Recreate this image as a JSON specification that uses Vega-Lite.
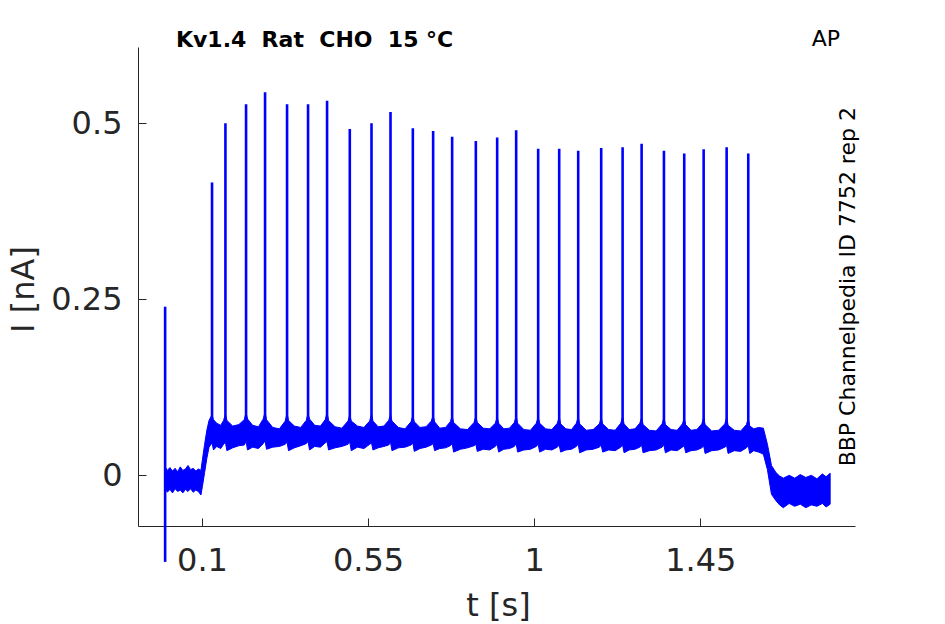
{
  "$schema": "https://vega.github.io/schema/vega-lite/v6.json",
  "width": 717,
  "height": 479,
  "autosize": "none",
  "padding": {"left": 138, "top": 47, "right": 90, "bottom": 98},
  "background": "white",
  "config": {
    "view": {"stroke": null},
    "axis": {
      "grid": false,
      "labelFont": "DejaVu Sans",
      "titleFont": "DejaVu Sans",
      "labelColor": "#262626",
      "titleColor": "#262626",
      "domainColor": "#262626",
      "tickColor": "#262626",
      "labelFontSize": 32,
      "titleFontSize": 32,
      "titleFontWeight": "normal",
      "domainWidth": 1,
      "tickWidth": 1
    }
  },
  "datasets": {
    "band": [
      {"t": 0.000, "lo": -0.018, "hi": 0.012},
      {"t": 0.006, "lo": -0.024, "hi": 0.007},
      {"t": 0.013, "lo": -0.020, "hi": 0.011},
      {"t": 0.020, "lo": -0.025, "hi": 0.006},
      {"t": 0.027, "lo": -0.019, "hi": 0.010},
      {"t": 0.034, "lo": -0.023, "hi": 0.005},
      {"t": 0.041, "lo": -0.021, "hi": 0.012},
      {"t": 0.048, "lo": -0.025, "hi": 0.007},
      {"t": 0.055, "lo": -0.020, "hi": 0.009},
      {"t": 0.062, "lo": -0.023, "hi": 0.014},
      {"t": 0.069, "lo": -0.019, "hi": 0.008},
      {"t": 0.076, "lo": -0.024, "hi": 0.010},
      {"t": 0.083, "lo": -0.021, "hi": 0.006},
      {"t": 0.090, "lo": -0.023, "hi": 0.009},
      {"t": 0.097, "lo": -0.028, "hi": 0.007},
      {"t": 0.101, "lo": -0.016, "hi": 0.022},
      {"t": 0.107, "lo": 0.004, "hi": 0.044},
      {"t": 0.113, "lo": 0.024, "hi": 0.064},
      {"t": 0.119, "lo": 0.040, "hi": 0.078},
      {"t": 0.1271, "lo": 0.046, "hi": 0.086},
      {"t": 0.1311, "lo": 0.036, "hi": 0.079},
      {"t": 0.1398, "lo": 0.041, "hi": 0.074},
      {"t": 0.1507, "lo": 0.038, "hi": 0.071},
      {"t": 0.1584, "lo": 0.044, "hi": 0.078},
      {"t": 0.1634, "lo": 0.047, "hi": 0.087},
      {"t": 0.1674, "lo": 0.035, "hi": 0.078},
      {"t": 0.1830, "lo": 0.039, "hi": 0.070},
      {"t": 0.1997, "lo": 0.042, "hi": 0.072},
      {"t": 0.2143, "lo": 0.043, "hi": 0.079},
      {"t": 0.2193, "lo": 0.048, "hi": 0.089},
      {"t": 0.2233, "lo": 0.036, "hi": 0.080},
      {"t": 0.2373, "lo": 0.040, "hi": 0.071},
      {"t": 0.2528, "lo": 0.038, "hi": 0.069},
      {"t": 0.2658, "lo": 0.045, "hi": 0.080},
      {"t": 0.2708, "lo": 0.049, "hi": 0.090},
      {"t": 0.2748, "lo": 0.037, "hi": 0.079},
      {"t": 0.2917, "lo": 0.040, "hi": 0.068},
      {"t": 0.3095, "lo": 0.041, "hi": 0.066},
      {"t": 0.3254, "lo": 0.044, "hi": 0.077},
      {"t": 0.3304, "lo": 0.047, "hi": 0.088},
      {"t": 0.3344, "lo": 0.035, "hi": 0.078},
      {"t": 0.3503, "lo": 0.039, "hi": 0.070},
      {"t": 0.3674, "lo": 0.042, "hi": 0.068},
      {"t": 0.3823, "lo": 0.045, "hi": 0.078},
      {"t": 0.3873, "lo": 0.048, "hi": 0.088},
      {"t": 0.3913, "lo": 0.036, "hi": 0.080},
      {"t": 0.4053, "lo": 0.041, "hi": 0.071},
      {"t": 0.4208, "lo": 0.040, "hi": 0.070},
      {"t": 0.4338, "lo": 0.046, "hi": 0.079},
      {"t": 0.4388, "lo": 0.048, "hi": 0.089},
      {"t": 0.4428, "lo": 0.036, "hi": 0.078},
      {"t": 0.4604, "lo": 0.039, "hi": 0.069},
      {"t": 0.4788, "lo": 0.041, "hi": 0.067},
      {"t": 0.4954, "lo": 0.044, "hi": 0.077},
      {"t": 0.5004, "lo": 0.047, "hi": 0.086},
      {"t": 0.5044, "lo": 0.035, "hi": 0.077},
      {"t": 0.5210, "lo": 0.040, "hi": 0.070},
      {"t": 0.5386, "lo": 0.038, "hi": 0.068},
      {"t": 0.5542, "lo": 0.044, "hi": 0.077},
      {"t": 0.5592, "lo": 0.046, "hi": 0.087},
      {"t": 0.5632, "lo": 0.036, "hi": 0.077},
      {"t": 0.5772, "lo": 0.039, "hi": 0.069},
      {"t": 0.5927, "lo": 0.041, "hi": 0.070},
      {"t": 0.6057, "lo": 0.043, "hi": 0.078},
      {"t": 0.6107, "lo": 0.047, "hi": 0.086},
      {"t": 0.6147, "lo": 0.035, "hi": 0.077},
      {"t": 0.6319, "lo": 0.039, "hi": 0.068},
      {"t": 0.6500, "lo": 0.040, "hi": 0.066},
      {"t": 0.6662, "lo": 0.043, "hi": 0.076},
      {"t": 0.6712, "lo": 0.046, "hi": 0.085},
      {"t": 0.6752, "lo": 0.034, "hi": 0.076},
      {"t": 0.6905, "lo": 0.038, "hi": 0.068},
      {"t": 0.7070, "lo": 0.040, "hi": 0.069},
      {"t": 0.7212, "lo": 0.043, "hi": 0.077},
      {"t": 0.7262, "lo": 0.045, "hi": 0.085},
      {"t": 0.7302, "lo": 0.035, "hi": 0.076},
      {"t": 0.7442, "lo": 0.038, "hi": 0.067},
      {"t": 0.7597, "lo": 0.039, "hi": 0.068},
      {"t": 0.7727, "lo": 0.042, "hi": 0.076},
      {"t": 0.7777, "lo": 0.045, "hi": 0.084},
      {"t": 0.7817, "lo": 0.033, "hi": 0.075},
      {"t": 0.8002, "lo": 0.037, "hi": 0.066},
      {"t": 0.8194, "lo": 0.039, "hi": 0.065},
      {"t": 0.8369, "lo": 0.042, "hi": 0.075},
      {"t": 0.8419, "lo": 0.044, "hi": 0.084},
      {"t": 0.8459, "lo": 0.034, "hi": 0.075},
      {"t": 0.8621, "lo": 0.037, "hi": 0.067},
      {"t": 0.8795, "lo": 0.036, "hi": 0.066},
      {"t": 0.8947, "lo": 0.041, "hi": 0.074},
      {"t": 0.8997, "lo": 0.044, "hi": 0.083},
      {"t": 0.9037, "lo": 0.033, "hi": 0.074},
      {"t": 0.9177, "lo": 0.037, "hi": 0.066},
      {"t": 0.9332, "lo": 0.038, "hi": 0.067},
      {"t": 0.9462, "lo": 0.041, "hi": 0.075},
      {"t": 0.9512, "lo": 0.045, "hi": 0.084},
      {"t": 0.9552, "lo": 0.033, "hi": 0.074},
      {"t": 0.9721, "lo": 0.036, "hi": 0.065},
      {"t": 0.9899, "lo": 0.037, "hi": 0.064},
      {"t": 1.0058, "lo": 0.041, "hi": 0.074},
      {"t": 1.0108, "lo": 0.044, "hi": 0.083},
      {"t": 1.0148, "lo": 0.033, "hi": 0.074},
      {"t": 1.0308, "lo": 0.037, "hi": 0.066},
      {"t": 1.0479, "lo": 0.036, "hi": 0.065},
      {"t": 1.0628, "lo": 0.040, "hi": 0.074},
      {"t": 1.0678, "lo": 0.043, "hi": 0.083},
      {"t": 1.0718, "lo": 0.033, "hi": 0.073},
      {"t": 1.0858, "lo": 0.036, "hi": 0.066},
      {"t": 1.1013, "lo": 0.037, "hi": 0.065},
      {"t": 1.1143, "lo": 0.041, "hi": 0.074},
      {"t": 1.1193, "lo": 0.044, "hi": 0.083},
      {"t": 1.1233, "lo": 0.032, "hi": 0.073},
      {"t": 1.1411, "lo": 0.036, "hi": 0.064},
      {"t": 1.1598, "lo": 0.037, "hi": 0.065},
      {"t": 1.1766, "lo": 0.040, "hi": 0.073},
      {"t": 1.1816, "lo": 0.043, "hi": 0.082},
      {"t": 1.1856, "lo": 0.033, "hi": 0.073},
      {"t": 1.2019, "lo": 0.036, "hi": 0.065},
      {"t": 1.2193, "lo": 0.035, "hi": 0.064},
      {"t": 1.2346, "lo": 0.040, "hi": 0.074},
      {"t": 1.2396, "lo": 0.043, "hi": 0.083},
      {"t": 1.2436, "lo": 0.032, "hi": 0.073},
      {"t": 1.2576, "lo": 0.036, "hi": 0.065},
      {"t": 1.2731, "lo": 0.037, "hi": 0.066},
      {"t": 1.2861, "lo": 0.040, "hi": 0.074},
      {"t": 1.2911, "lo": 0.043, "hi": 0.082},
      {"t": 1.2951, "lo": 0.032, "hi": 0.072},
      {"t": 1.3123, "lo": 0.035, "hi": 0.064},
      {"t": 1.3304, "lo": 0.036, "hi": 0.063},
      {"t": 1.3466, "lo": 0.040, "hi": 0.073},
      {"t": 1.3516, "lo": 0.043, "hi": 0.082},
      {"t": 1.3556, "lo": 0.032, "hi": 0.072},
      {"t": 1.3709, "lo": 0.036, "hi": 0.065},
      {"t": 1.3874, "lo": 0.035, "hi": 0.064},
      {"t": 1.4016, "lo": 0.040, "hi": 0.073},
      {"t": 1.4066, "lo": 0.042, "hi": 0.081},
      {"t": 1.4106, "lo": 0.032, "hi": 0.072},
      {"t": 1.4250, "lo": 0.035, "hi": 0.064},
      {"t": 1.4408, "lo": 0.036, "hi": 0.065},
      {"t": 1.4542, "lo": 0.039, "hi": 0.073},
      {"t": 1.4592, "lo": 0.042, "hi": 0.082},
      {"t": 1.4632, "lo": 0.031, "hi": 0.072},
      {"t": 1.4810, "lo": 0.035, "hi": 0.063},
      {"t": 1.4997, "lo": 0.036, "hi": 0.064},
      {"t": 1.5165, "lo": 0.040, "hi": 0.073},
      {"t": 1.5215, "lo": 0.042, "hi": 0.082},
      {"t": 1.5255, "lo": 0.031, "hi": 0.071},
      {"t": 1.5420, "lo": 0.035, "hi": 0.064},
      {"t": 1.5596, "lo": 0.034, "hi": 0.063},
      {"t": 1.5751, "lo": 0.039, "hi": 0.072},
      {"t": 1.5801, "lo": 0.042, "hi": 0.081},
      {"t": 1.5841, "lo": 0.031, "hi": 0.070},
      {"t": 1.595, "lo": 0.035, "hi": 0.066},
      {"t": 1.608, "lo": 0.033, "hi": 0.068},
      {"t": 1.621, "lo": 0.030, "hi": 0.067},
      {"t": 1.632, "lo": 0.008, "hi": 0.044},
      {"t": 1.643, "lo": -0.027, "hi": 0.014},
      {"t": 1.655, "lo": -0.036, "hi": 0.004},
      {"t": 1.665, "lo": -0.042, "hi": -0.001},
      {"t": 1.675, "lo": -0.046, "hi": -0.004},
      {"t": 1.691, "lo": -0.040, "hi": 0.000},
      {"t": 1.706, "lo": -0.044, "hi": -0.004},
      {"t": 1.721, "lo": -0.041, "hi": 0.001},
      {"t": 1.736, "lo": -0.046, "hi": -0.003},
      {"t": 1.751, "lo": -0.042, "hi": 0.000},
      {"t": 1.766, "lo": -0.044, "hi": -0.005},
      {"t": 1.781, "lo": -0.040, "hi": 0.002},
      {"t": 1.791, "lo": -0.045, "hi": -0.002},
      {"t": 1.802, "lo": -0.041, "hi": 0.003}
    ],
    "spikes": [
      {"t": 0.000, "base": -0.123, "peak": 0.2395},
      {"t": 0.1271, "base": 0.06, "peak": 0.416},
      {"t": 0.1634, "base": 0.06, "peak": 0.500},
      {"t": 0.2193, "base": 0.06, "peak": 0.527},
      {"t": 0.2708, "base": 0.06, "peak": 0.544},
      {"t": 0.3304, "base": 0.06, "peak": 0.527},
      {"t": 0.3873, "base": 0.06, "peak": 0.527},
      {"t": 0.4388, "base": 0.06, "peak": 0.532},
      {"t": 0.5004, "base": 0.06, "peak": 0.492},
      {"t": 0.5592, "base": 0.06, "peak": 0.500},
      {"t": 0.6107, "base": 0.06, "peak": 0.516},
      {"t": 0.6712, "base": 0.06, "peak": 0.493},
      {"t": 0.7262, "base": 0.06, "peak": 0.489},
      {"t": 0.7777, "base": 0.06, "peak": 0.481},
      {"t": 0.8419, "base": 0.06, "peak": 0.475},
      {"t": 0.8997, "base": 0.06, "peak": 0.480},
      {"t": 0.9512, "base": 0.06, "peak": 0.490},
      {"t": 1.0108, "base": 0.06, "peak": 0.464},
      {"t": 1.0678, "base": 0.06, "peak": 0.464},
      {"t": 1.1193, "base": 0.06, "peak": 0.461},
      {"t": 1.1816, "base": 0.06, "peak": 0.465},
      {"t": 1.2396, "base": 0.06, "peak": 0.466},
      {"t": 1.2911, "base": 0.06, "peak": 0.471},
      {"t": 1.3516, "base": 0.06, "peak": 0.461},
      {"t": 1.4066, "base": 0.06, "peak": 0.457},
      {"t": 1.4592, "base": 0.06, "peak": 0.463},
      {"t": 1.5215, "base": 0.06, "peak": 0.466},
      {"t": 1.5801, "base": 0.06, "peak": 0.457}
    ],
    "heading": [{"t": 0.0293, "v": 0.6088, "label": "Kv1.4\u00a0\u00a0Rat\u00a0\u00a0CHO\u00a0\u00a015\u00a0°C"}],
    "tag": [{"t": 1.7522, "v": 0.6098, "label": "AP"}],
    "source": [{"t": 1.8702, "v": 0.2679, "label": "BBP Channelpedia ID 7752 rep 2"}]
  },
  "layer": [
    {
      "data": {"name": "band"},
      "mark": {"type": "area", "color": "#0000ff", "stroke": "#0000ff", "strokeWidth": 1},
      "encoding": {
        "x": {
          "field": "t",
          "type": "quantitative",
          "scale": {"domain": [-0.0735, 1.8693], "nice": false, "zero": false},
          "axis": {
            "values": [0.1, 0.55, 1, 1.45],
            "labelExpr": "'' + datum.value",
            "title": "t [s]",
            "tickSize": -8,
            "labelPadding": 52,
            "labelBaseline": "alphabetic",
            "labelFlush": false,
            "labelOverlap": false,
            "titleX": 360,
            "titleY": 89,
            "titleBaseline": "alphabetic",
            "titleAlign": "center"
          }
        },
        "y": {
          "field": "lo",
          "type": "quantitative",
          "scale": {"domain": [-0.072, 0.6084], "nice": false, "zero": false},
          "axis": {
            "values": [0, 0.25, 0.5],
            "labelExpr": "'' + datum.value",
            "title": "I [nA]",
            "tickSize": -8,
            "labelPadding": 24,
            "labelFlush": false,
            "labelOverlap": false,
            "titleAngle": 270,
            "titleX": -105,
            "titleY": 242,
            "titleBaseline": "alphabetic",
            "titleAlign": "center"
          }
        },
        "y2": {"field": "hi"}
      }
    },
    {
      "data": {"name": "spikes"},
      "mark": {"type": "rule", "color": "#0000ff", "strokeWidth": 2.6},
      "encoding": {
        "x": {"field": "t", "type": "quantitative"},
        "y": {"field": "base", "type": "quantitative"},
        "y2": {"field": "peak"}
      }
    },
    {
      "data": {"name": "heading"},
      "mark": {"type": "text", "font": "DejaVu Sans", "fontSize": 22, "fontWeight": "bold", "color": "black", "align": "left", "baseline": "alphabetic"},
      "encoding": {
        "x": {"field": "t", "type": "quantitative"},
        "y": {"field": "v", "type": "quantitative"},
        "text": {"field": "label"}
      }
    },
    {
      "data": {"name": "tag"},
      "mark": {"type": "text", "font": "DejaVu Sans", "fontSize": 22, "color": "black", "align": "left", "baseline": "alphabetic"},
      "encoding": {
        "x": {"field": "t", "type": "quantitative"},
        "y": {"field": "v", "type": "quantitative"},
        "text": {"field": "label"}
      }
    },
    {
      "data": {"name": "source"},
      "mark": {"type": "text", "font": "DejaVu Sans", "fontSize": 22, "color": "black", "align": "center", "baseline": "alphabetic", "angle": 270},
      "encoding": {
        "x": {"field": "t", "type": "quantitative"},
        "y": {"field": "v", "type": "quantitative"},
        "text": {"field": "label"}
      }
    }
  ]
}
